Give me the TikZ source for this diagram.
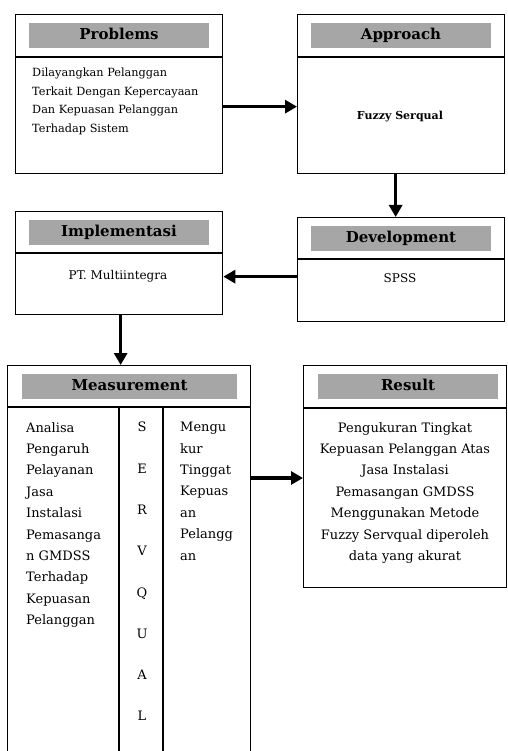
\documentclass[tikz,border=0pt]{standalone}
\usepackage{fontspec}
\setmainfont{DejaVu Serif}
\usetikzlibrary{arrows.meta}
\tikzset{
  x=1pt,y=1pt,
  box/.style={draw=black, line width=1.3pt, anchor=north west, inner sep=0pt},
  band/.style={fill=black!35, draw=none, minimum width=180pt, minimum height=25pt, inner sep=0pt, text height=11pt, text depth=3pt, font=\fontsize{15}{18}\selectfont\bfseries},
  arr/.style={line width=3.2pt, -{Triangle[length=12pt,width=13pt]}},
  divider/.style={line width=1.3pt},
  bodytxt/.style={inner sep=0pt, font=\fontsize{13}{21.4}\selectfont}
}
\begin{document}
\begin{tikzpicture}
\clip (0,0) rectangle (507,-751);
\fill[white] (0,0) rectangle (507,-751);
% Problems
\node[box, minimum width=207pt, minimum height=159pt] (prob) at (15,-14) {};
\draw[divider] ([yshift=-43pt]prob.north west) -- ([yshift=-43pt]prob.north east);
\node[band] (probh) at (119,-35.5) {Problems};
\node[inner sep=0pt, anchor=north west, align=left, font=\fontsize{11.3}{18.5}\selectfont] (probt) at (32,-68)
  {Dilayangkan Pelanggan\\Terkait Dengan Kepercayaan\\Dan Kepuasan Pelanggan\\Terhadap Sistem};
% Approach
\node[box, minimum width=207pt, minimum height=159pt] (app) at (297,-14) {};
\draw[divider] ([yshift=-43pt]app.north west) -- ([yshift=-43pt]app.north east);
\node[band] (apph) at (401,-35.5) {Approach};
\node[inner sep=0pt, font=\fontsize{11}{13}\selectfont\bfseries] (appt) at (400,-117) {Fuzzy Serqual};
% Development
\node[box, minimum width=207pt, minimum height=104pt] (dev) at (297,-217) {};
\draw[divider] ([yshift=-42pt]dev.north west) -- ([yshift=-42pt]dev.north east);
\node[band] (devh) at (401,-238.5) {Development};
\node[inner sep=0pt, font=\fontsize{12}{14}\selectfont] (devt) at (400,-278) {SPSS};
% Implementasi
\node[box, minimum width=207pt, minimum height=103pt] (impl) at (15,-211) {};
\draw[divider] ([yshift=-42pt]impl.north west) -- ([yshift=-42pt]impl.north east);
\node[band] (implh) at (119,-232) {Implementasi};
\node[inner sep=0pt, font=\fontsize{12}{14}\selectfont] (implt) at (118,-276) {PT. Multiintegra};
% Measurement
\node[box, minimum width=243pt, minimum height=400pt] (meas) at (7,-365) {};
\draw[divider] ([yshift=-42pt]meas.north west) -- ([yshift=-42pt]meas.north east);
\draw[divider] ([yshift=-42pt]meas.north west -| 119,0) -- (119,-760);
\draw[divider] ([yshift=-42pt]meas.north west -| 163,0) -- (163,-760);
\node[band, minimum width=215pt] (meash) at (129.5,-386.5) {Measurement};
\node[bodytxt, anchor=north west, align=left] (m1) at (26,-422)
  {Analisa\\Pengaruh\\Pelayanan\\Jasa\\Instalasi\\Pemasanga\\n GMDSS\\Terhadap\\Kepuasan\\Pelanggan};
\node[inner sep=0pt, anchor=north, align=center, font=\fontsize{13}{41.3}\selectfont] (m2) at (142,-422)
  {S\\E\\R\\V\\Q\\U\\A\\L};
\node[bodytxt, anchor=north west, align=left] (m3) at (180,-422)
  {Mengu\\kur\\Tinggat\\Kepuas\\an\\Pelangg\\an};
% Result
\node[box, minimum width=203pt, minimum height=222pt] (res) at (303,-365) {};
\draw[divider] ([yshift=-43pt]res.north west) -- ([yshift=-43pt]res.north east);
\node[band] (resh) at (408,-386.5) {Result};
\node[bodytxt, anchor=north, align=center] (rest) at (405,-422)
  {Pengukuran Tingkat\\Kepuasan Pelanggan Atas\\Jasa Instalasi\\Pemasangan GMDSS\\Menggunakan Metode\\Fuzzy Servqual diperoleh\\data yang akurat};
% connectors
\draw[arr] ([yshift=-12.5pt]prob.east) -- ([yshift=-12.5pt]app.west);
\draw[arr] ([xshift=-5.5pt]app.south) -- ([xshift=-5.5pt]dev.north);
\draw[arr] ([yshift=-7pt]dev.west) -- ([yshift=-7pt]dev.west -| impl.east);
\draw[arr] ([xshift=1.5pt]impl.south) -- ([xshift=1.5pt]impl.south |- meas.north);
\draw[arr] (meas.east |- 0,-478) -- (res.west |- 0,-478);
\end{tikzpicture}
\end{document}
